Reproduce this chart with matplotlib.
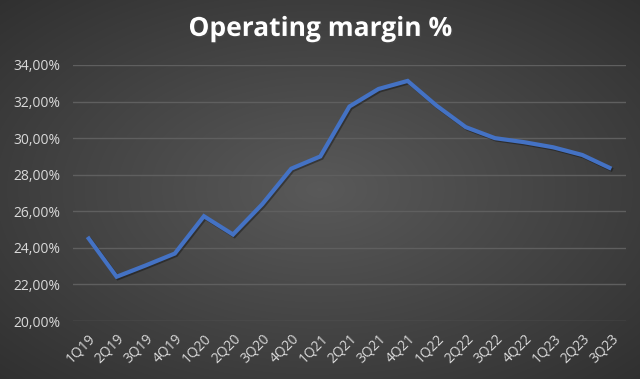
import numpy as np
import matplotlib.pyplot as plt
import matplotlib.patheffects as pe
from matplotlib.ticker import FuncFormatter

quarters = ['1Q19', '2Q19', '3Q19', '4Q19', '1Q20', '2Q20', '3Q20', '4Q20',
            '1Q21', '2Q21', '3Q21', '4Q21', '1Q22', '2Q22', '3Q22', '4Q22',
            '1Q23', '2Q23', '3Q23']
margin = [24.60, 22.42, 23.04, 23.69, 25.73, 24.73, 26.38, 28.33,
          29.00, 31.73, 32.69, 33.13, 31.77, 30.60, 30.00, 29.78,
          29.50, 29.08, 28.33]

fig = plt.figure(figsize=(6.4, 3.79), dpi=100)

# radial gradient background
bg = fig.add_axes([0, 0, 1, 1], zorder=0)
yy, xx = np.mgrid[-1:1:379j, -1:1:640j]
r = np.sqrt(xx ** 2 + yy ** 2) / np.sqrt(2)
shade = 0.35 - 0.16 * r
bg.imshow(np.dstack([shade] * 3), aspect='auto', extent=[0, 1, 0, 1])
bg.axis('off')

ax = fig.add_axes([0.114, 0.153, 0.864, 0.6755], zorder=1)
ax.patch.set_alpha(0)
ax.plot(range(len(quarters)), margin, color='#4472C4', lw=3.0,
        solid_joinstyle='miter', solid_capstyle='butt',
        path_effects=[pe.SimpleLineShadow(offset=(1, -1), alpha=0.35), pe.Normal()])

ax.set_xlim(-0.5, len(quarters) - 0.5)
ax.set_ylim(20, 34)
ax.set_yticks(np.arange(20, 35, 2))
ax.yaxis.set_major_formatter(FuncFormatter(lambda v, p: f'{v:.2f}%'.replace('.', ',')))
ax.set_xticks(range(len(quarters)))
ax.set_xticklabels(quarters, rotation=45, ha='right', rotation_mode='anchor')
ax.grid(axis='y', color='#5f5f5f', lw=1.0)
ax.set_axisbelow(True)
for s in ax.spines.values():
    s.set_visible(False)
ax.tick_params(length=0, colors='#d9d9d9', labelsize=10)
ax.tick_params(axis='y', pad=9)
ax.tick_params(axis='x', pad=7)
for lbl in ax.get_xticklabels() + ax.get_yticklabels():
    lbl.set_family('Open Sans')

fig.text(0.5, 0.925, 'Operating margin %', ha='center', va='center', color='white',
         fontsize=19, fontweight='bold', family='Open Sans',
         path_effects=[pe.withSimplePatchShadow(offset=(1, -1), alpha=0.5)])

fig.savefig('out.png', dpi=100)
